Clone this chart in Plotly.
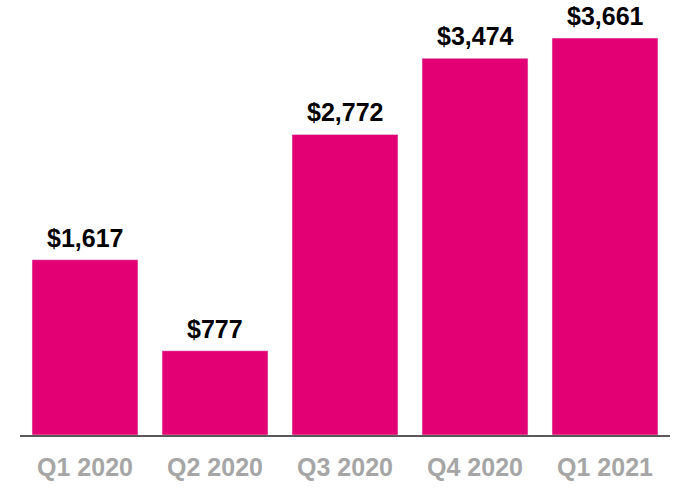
import plotly.graph_objects as go

categories = ["Q1 2020", "Q2 2020", "Q3 2020", "Q4 2020", "Q1 2021"]
values = [1617, 777, 2772, 3474, 3661]
labels = ["$1,617", "$777", "$2,772", "$3,474", "$3,661"]

FONT = "Liberation Sans, Arial, sans-serif"

fig = go.Figure(go.Bar(
    x=categories, y=values,
    marker_color="#E20074",
    cliponaxis=False,
))
for c, v, t in zip(categories, values, labels):
    fig.add_annotation(x=c, y=v, text=t, showarrow=False, yanchor="bottom",
                       yshift=6, font=dict(family=FONT, size=25, color="#000000", weight="bold"))
fig.update_layout(
    width=690, height=500,
    margin=dict(l=20, r=20, t=0, b=65),
    paper_bgcolor="white", plot_bgcolor="white",
    bargap=0.185,
    showlegend=False,
    xaxis=dict(showline=True, linecolor="#595959", linewidth=2, showgrid=False,
               tickfont=dict(family=FONT, size=25, color="#A6A6A6", weight="bold"),
               ticks="outside", ticklen=9, tickcolor="rgba(0,0,0,0)"),
    yaxis=dict(range=[0, 4012], visible=False, showgrid=False, zeroline=False),
)
fig.write_html("out.html")
